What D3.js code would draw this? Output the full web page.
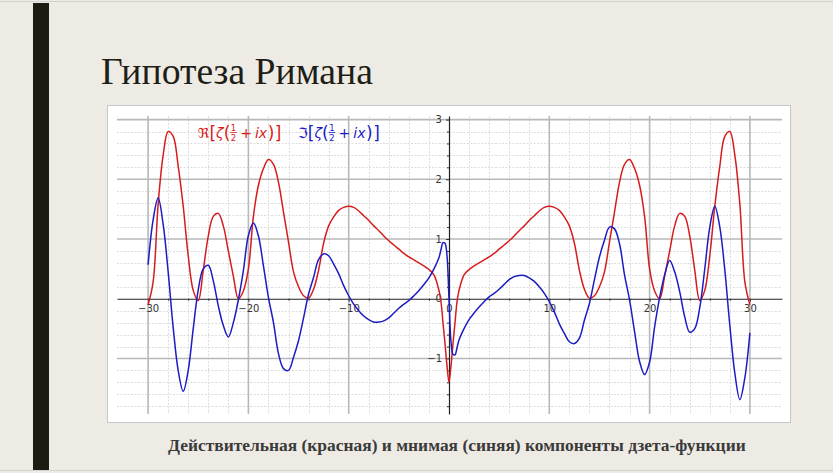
<!DOCTYPE html>
<html><head><meta charset="utf-8">
<script src="https://cdn.jsdelivr.net/npm/d3@7"></script>
<style>html,body{margin:0;padding:0;background:#eeebe4;} svg{display:block}</style>
</head><body>
<svg id="c" width="833" height="473"></svg>
<script>
// ---- data ----
const xs = [-30,-29.5,-29,-28.5,-28,-27.5,-27,-26.5,-26,-25.5,-25,-24.5,-24,-23.5,-23,-22.5,-22,-21.5,-21,-20.5,-20,-19.5,-19,-18.5,-18,-17.5,-17,-16.5,-16,-15.5,-15,-14.5,-14,-13.5,-13,-12.5,-12,-11.5,-11,-10.5,-10,-9.5,-9,-8.5,-8,-7.5,-7,-6.5,-6,-5.5,-5,-4.5,-4,-3.5,-3,-2.5,-2,-1.5,-1,-0.8,-0.6,-0.4,-0.2,
  0,0.2,0.4,0.6,0.8,1,1.5,2,2.5,3,3.5,4,4.5,5,5.5,6,6.5,7,7.5,8,8.5,9,9.5,10,10.5,11,11.5,12,12.5,13,13.5,14,14.5,15,15.5,16,16.5,17,17.5,18,18.5,19,19.5,20,20.5,21,21.5,22,22.5,23,23.5,24,24.5,25,25.5,26,26.5,27,27.5,28,28.5,29,29.5,30];
const reZeta = [-0.10,0.28,1.58,2.40,2.80,2.72,2.22,1.55,0.72,0.14,-0.03,0.48,1.05,1.38,1.43,1.22,0.80,0.38,0.00,0.13,0.50,1.38,1.90,2.18,2.33,2.25,1.95,1.45,0.95,0.45,0.20,0.05,0.01,0.16,0.48,0.93,1.22,1.37,1.48,1.53,1.55,1.53,1.47,1.39,1.31,1.22,1.14,1.05,0.97,0.90,0.83,0.76,0.70,0.65,0.60,0.55,0.49,0.40,0.14,-0.05,-0.40,-0.75,-1.12,
  -1.40,-1.12,-0.75,-0.40,-0.05,0.14,0.40,0.49,0.55,0.60,0.65,0.70,0.76,0.83,0.90,0.97,1.05,1.14,1.22,1.31,1.39,1.47,1.53,1.55,1.53,1.48,1.37,1.22,0.93,0.48,0.16,0.01,0.05,0.20,0.45,0.95,1.45,1.95,2.25,2.33,2.18,1.90,1.38,0.50,0.13,0.00,0.38,0.80,1.22,1.43,1.38,1.05,0.48,-0.03,0.14,0.72,1.55,2.22,2.72,2.80,2.40,1.58,0.28,-0.10];
const imZeta = [0.57,1.32,1.69,1.25,0.45,-0.48,-1.20,-1.55,-1.20,-0.50,0.15,0.50,0.56,0.30,-0.12,-0.45,-0.64,-0.40,-0.02,0.47,1.06,1.27,1.05,0.55,0.02,-0.40,-0.92,-1.17,-1.20,-0.98,-0.70,-0.32,0.08,0.36,0.66,0.75,0.72,0.58,0.42,0.22,0.05,-0.09,-0.20,-0.29,-0.35,-0.39,-0.39,-0.37,-0.32,-0.24,-0.16,-0.09,-0.03,0.05,0.14,0.24,0.35,0.50,0.69,0.82,0.94,0.93,0.72,
  0,-0.72,-0.93,-0.94,-0.82,-0.69,-0.50,-0.35,-0.24,-0.14,-0.05,0.03,0.09,0.16,0.24,0.32,0.37,0.39,0.39,0.35,0.29,0.20,0.09,-0.05,-0.22,-0.42,-0.58,-0.72,-0.75,-0.66,-0.36,-0.08,0.32,0.70,0.98,1.20,1.17,0.92,0.40,-0.02,-0.55,-1.05,-1.27,-1.06,-0.47,0.02,0.40,0.64,0.45,0.12,-0.30,-0.56,-0.50,-0.15,0.50,1.20,1.55,1.20,0.48,-0.45,-1.25,-1.69,-1.32,-0.57];
const xTickValues = [-30,-20,-10,0,10,20,30];
const xTickLabels = ["\u221230","\u221220","\u221210","0","10","20","30"];
const yTickValues = [-1,0,1,2,3];
const yTickLabels = ["\u22121","0","1","2","3"];
const seriesNames = ["\u211C", "\u2111"];
const titleText = "Гипотеза Римана";
const captionText = "Действительная (красная) и мнимая (синяя) компоненты дзета-функции";

// ---- drawing ----
const svg = d3.select("#c");
const W = 833, H = 473;
svg.append("rect").attr("width", W).attr("height", H).attr("fill", "#eeebe4");
svg.append("line").attr("x1",0).attr("x2",W).attr("y1",1.5).attr("y2",1.5).attr("stroke","#d2d2d2");
svg.append("line").attr("x1",0).attr("x2",W).attr("y1",470.5).attr("y2",470.5).attr("stroke","#d2d2d2");
svg.append("rect").attr("x", 33).attr("y", 3).attr("width", 16).attr("height", 467).attr("fill", "#1c1c12");

const serif = "Liberation Serif, Times New Roman, DejaVu Serif, serif";
const title = svg.append("text").attr("x", 101).attr("y", 84)
  .style("font-family", serif).attr("font-size", 38)
  .attr("fill", "#1e1e18").text(titleText);
{ const L = title.node().getComputedTextLength(); title.attr("font-size", 38 * 272 / L); }

svg.append("rect").attr("x", 107.5).attr("y", 105.5).attr("width", 683).attr("height", 317)
  .attr("fill", "#fff").attr("stroke", "#c6c6c6");

const x = d3.scaleLinear().domain([-33.1, 33.2]).range([117, 782]);
const y = d3.scaleLinear().domain([-1.93, 3.06]).range([414, 116]);

const grid = svg.append("g");
const xMinor = d3.range(-30, 31, 2).filter(v => v % 10 !== 0);
const yMinor = d3.range(-9, 16).map(v => +(v * 0.2).toFixed(1)).filter(v => Math.abs(v - Math.round(v)) > 1e-6);
grid.selectAll(".xm").data(xMinor).join("line")
  .attr("x1", d => Math.round(x(d)) + 0.5).attr("x2", d => Math.round(x(d)) + 0.5).attr("y1", y.range()[1]).attr("y2", y.range()[0])
  .attr("stroke", "#dcdcdc").attr("stroke-dasharray", "2,1.5").attr("stroke-width", 1);
grid.selectAll(".ym").data(yMinor).join("line")
  .attr("y1", d => Math.round(y(d)) + 0.5).attr("y2", d => Math.round(y(d)) + 0.5).attr("x1", x.range()[0]).attr("x2", x.range()[1])
  .attr("stroke", "#dcdcdc").attr("stroke-dasharray", "2,1.5").attr("stroke-width", 1);
grid.selectAll(".xM").data(xTickValues.filter(v => v !== 0)).join("line")
  .attr("x1", d => x(d)).attr("x2", d => x(d)).attr("y1", y.range()[1]).attr("y2", y.range()[0])
  .attr("stroke", "#b8b8b8").attr("stroke-width", 1.6);
grid.selectAll(".yM").data(yTickValues.filter(v => v !== 0)).join("line")
  .attr("y1", d => y(d)).attr("y2", d => y(d)).attr("x1", x.range()[0]).attr("x2", x.range()[1])
  .attr("stroke", "#b8b8b8").attr("stroke-width", 1.6);

// axes
const axFont = "DejaVu Sans, sans-serif";
svg.append("g").attr("transform", `translate(0,${y(0)})`)
  .call(d3.axisBottom(x).tickValues(xTickValues).tickFormat((d, i) => xTickLabels[i]).tickSize(3).tickSizeOuter(0).tickPadding(3));
svg.append("g").attr("transform", `translate(${x(0)},0)`)
  .call(d3.axisLeft(y).tickValues(yTickValues).tickFormat((d, i) => yTickLabels[i]).tickSize(3).tickSizeOuter(0).tickPadding(4));
svg.append("g").attr("transform", `translate(${x(0)},0)`)
  .call(d3.axisLeft(y).tickValues(yMinor).tickFormat("").tickSize(2).tickSizeOuter(0))
  .call(g => g.select(".domain").remove());
svg.append("g").attr("transform", `translate(0,${y(0)})`)
  .call(d3.axisBottom(x).tickValues(xMinor).tickFormat("").tickSize(2).tickSizeOuter(0))
  .call(g => g.select(".domain").remove());
svg.selectAll(".domain").attr("stroke", "#222").attr("stroke-width", 1.2);
svg.selectAll(".tick line").attr("stroke", "#333");
svg.selectAll(".tick text").style("font-family", axFont).attr("font-size", 10).attr("fill", "#333");

// curves
const line = d3.line().x((d, i) => x(xs[i])).y(d => y(d)).curve(d3.curveCatmullRom.alpha(0.5));
svg.append("path").datum(reZeta).attr("d", line).attr("fill", "none").attr("stroke", "#d61c1c").attr("stroke-width", 1.5);
svg.append("path").datum(imZeta).attr("d", line).attr("fill", "none").attr("stroke", "#1c1cc4").attr("stroke-width", 1.5);

// legend (math-like labels)
function mathLabel(x0, base, color, sym) {
  const g = svg.append("g").attr("fill", color).style("font-family", axFont);
  let cx = x0;
  const parts = [[sym, "normal", 14, 0], ["[", "normal", 17, 0], ["\u03B6", "italic", 14, 0], ["(", "normal", 17, 0], ["FRAC"],
                 ["+", "normal", 14, 3], ["ix", "italic", 14, 3], [")", "normal", 17, 0.5], ["]", "normal", 17, 0.5]];
  for (const p of parts) {
    if (p[0] === "FRAC") {
      const t1 = g.append("text").attr("x", cx + 0.5).attr("y", base - 7).attr("font-size", 8.5).text("1");
      const t2 = g.append("text").attr("x", cx + 0.5).attr("y", base + 2.5).attr("font-size", 8.5).text("2");
      const w = Math.max(t1.node().getComputedTextLength(), t2.node().getComputedTextLength());
      g.append("line").attr("x1", cx).attr("x2", cx + w + 1).attr("y1", base - 5.5).attr("y2", base - 5.5).attr("stroke", color).attr("stroke-width", 0.8);
      cx += w + 1.5;
      continue;
    }
    cx += p[3];
    const t = g.append("text").attr("x", cx).attr("y", base + (p[2] > 15 ? 1 : 0)).attr("font-size", p[2]).attr("font-style", p[1]).text(p[0]);
    cx += t.node().getComputedTextLength();
  }
  return cx;
}
mathLabel(198, 138, "#d61c1c", seriesNames[0]);
mathLabel(298, 138, "#1c1cc4", seriesNames[1]);

// caption
const cap = svg.append("text").attr("x", 168).attr("y", 451)
  .style("font-family", serif).attr("font-weight", "bold").attr("font-size", 16)
  .attr("fill", "#3a3a3a").text(captionText);
{ const L = cap.node().getComputedTextLength(); cap.attr("font-size", 16 * 578 / L); }
</script>
</body></html>
